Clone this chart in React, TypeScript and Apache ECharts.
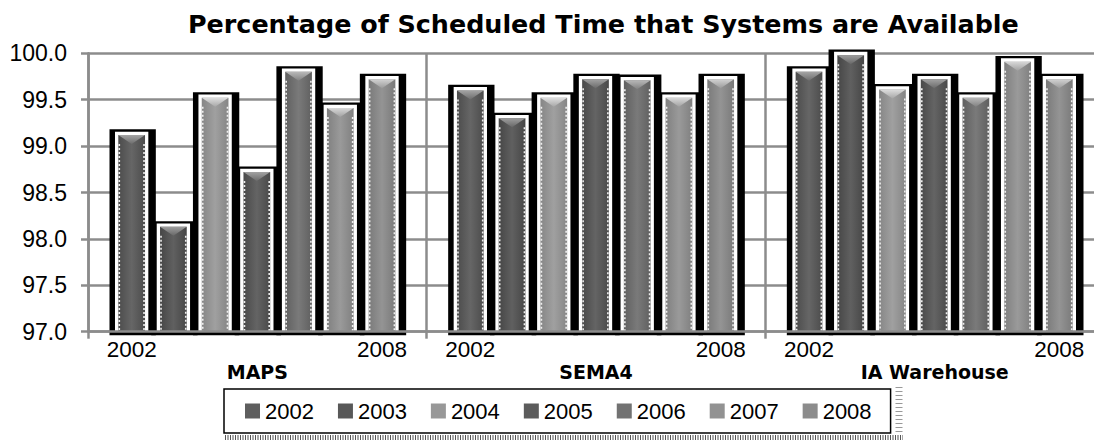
import React, { useEffect, useRef } from "react";
import * as echarts from "echarts";

// ---------------- data ----------------
const TITLE = "Percentage of Scheduled Time that Systems are Available";
const SYSTEMS = ["MAPS", "SEMA4", "IA Warehouse"];
const YEARS = ["2002", "2003", "2004", "2005", "2006", "2007", "2008"];
// one array per year, values for MAPS, SEMA4, IA Warehouse
const V2002 = [99.12, 99.6, 99.8];
const V2003 = [98.13, 99.3, 99.98];
const V2004 = [99.52, 99.52, 99.61];
const V2005 = [98.72, 99.72, 99.72];
const V2006 = [99.8, 99.71, 99.52];
const V2007 = [99.41, 99.52, 99.91];
const V2008 = [99.72, 99.72, 99.72];
const VALUES = [V2002, V2003, V2004, V2005, V2006, V2007, V2008];
const Y_MIN = 97;
const Y_MAX = 100;
const Y_STEP = 0.5;

// ---------------- styles ----------------
const FONT = "Liberation Sans";
const BOLD_FONT = "DejaVu Sans";
const GRID_GRAY = "#8c8c8c";
const COLORS = ["#5e5e5e", "#585858", "#989898", "#5c5c5c", "#727272", "#929292", "#8c8c8c"];

function shade(hex: string, amt: number): string {
  const n = parseInt(hex.slice(1), 16);
  const clamp = (v: number) => Math.max(0, Math.min(255, Math.round(v)));
  const r = clamp(((n >> 16) & 255) + amt);
  const g = clamp(((n >> 8) & 255) + amt);
  const b = clamp((n & 255) + amt);
  return "#" + ((1 << 24) | (r << 16) | (g << 8) | b).toString(16).slice(1);
}

function makeRender(s: number) {
  return (params: any, api: any) => {
    const cat = api.value(0);
    const val = api.value(1);
    const top = api.coord([cat, val]);
    const base = api.coord([cat, Y_MIN]);
    const band = api.size([1, 0])[0];
    const pitch = band * 0.1232;
    const wW = band * 0.0984;
    const cx = top[0] + (s - 3) * pitch - 0.5;
    const yTop = top[1];
    const y0 = base[1];
    const b = 3.3;
    const wL = cx - wW / 2;
    const wTop = yTop - b;
    const fL = wL + b;
    const fW = wW - 2 * b;
    const c = COLORS[s];
    const bodyGrad = new echarts.graphic.LinearGradient(0, 0, 1, 0, [
      { offset: 0, color: shade(c, -18) },
      { offset: 0.5, color: shade(c, 8) },
      { offset: 1, color: shade(c, -18) },
    ]);
    const capGrad = new echarts.graphic.LinearGradient(0, 0, 0, 1, [
      { offset: 0, color: shade(c, 70) },
      { offset: 1, color: shade(c, 15) },
    ]);
    const children: any[] = [
      {
        type: "rect",
        shape: { x: wL - 5.5, y: wTop - 2.3, width: wW + 13, height: y0 + 3.5 - (wTop - 2.3) },
        style: { fill: "#000" },
      },
      {
        type: "rect",
        shape: { x: wL, y: wTop, width: wW, height: y0 - wTop },
        style: { fill: "#fff" },
      },
      {
        type: "rect",
        shape: { x: fL, y: yTop, width: fW, height: y0 - yTop },
        style: { fill: bodyGrad },
      },
      {
        type: "line",
        shape: { x1: fL + 1, y1: yTop + 9, x2: fL + 1, y2: y0 },
        style: { stroke: "#eeeeee", lineWidth: 1.6, lineDash: [2, 2] },
      },
      {
        type: "line",
        shape: { x1: fL + fW - 1, y1: yTop + 9, x2: fL + fW - 1, y2: y0 },
        style: { stroke: "#eeeeee", lineWidth: 1.6, lineDash: [2, 2] },
      },
      {
        type: "polygon",
        shape: { points: [[fL, yTop], [fL + fW, yTop], [cx, yTop + 9]] },
        style: { fill: capGrad },
      },
    ];
    if (s === 0 || s === YEARS.length - 1) {
      children.push({
        type: "text",
        x: cx,
        y: y0 + 17.5,
        style: {
          text: YEARS[s],
          fill: "#000",
          font: `22.5px "${FONT}"`,
          align: "center",
          verticalAlign: "middle",
        },
      });
    }
    return { type: "group", children };
  };
}

export default function App() {
  const ref = useRef<HTMLDivElement>(null);

  useEffect(() => {
    if (!ref.current) return;
    const chart = echarts.init(ref.current, undefined, { renderer: "svg" });

    const series = YEARS.map((y, s) => ({
      type: "custom",
      name: y,
      renderItem: makeRender(s),
      encode: { x: 0, y: 1 },
      itemStyle: { color: COLORS[s] },
      data: VALUES[s].map((v, i) => [i, v]),
      z: 2,
      clip: false,
    }));

    chart.setOption({
      animation: false,
      backgroundColor: "#fff",
      textStyle: { fontFamily: FONT },
      title: {
        text: TITLE,
        left: 188,
        top: 11,
        padding: 0,
        textStyle: {
          fontFamily: BOLD_FONT,
          fontWeight: "bold",
          fontSize: 25.4,
          lineHeight: 26,
          color: "#000",
        },
      },
      legend: {
        data: YEARS,
        left: 224,
        top: 389,
        padding: [11, 19, 11, 21],
        borderColor: "#000",
        borderWidth: 1.5,
        backgroundColor: "#fff",
        itemGap: 24,
        itemWidth: 15,
        itemHeight: 15,
        icon: "rect",
        selectedMode: false,
        z: 5,
        textStyle: { fontFamily: FONT, fontSize: 22, lineHeight: 22, color: "#000" },
      },
      grid: {
        left: 88,
        right: -10,
        top: 53.3,
        bottom: 108.3,
        containLabel: false,
        outerBoundsMode: "none",
      },
      xAxis: {
        type: "category",
        data: SYSTEMS,
        z: 5,
        axisLine: { show: true, lineStyle: { color: GRID_GRAY, width: 2.5 } },
        axisTick: { show: true, length: 7, interval: 0, lineStyle: { color: GRID_GRAY, width: 2.5 } },
        splitLine: { show: true, interval: 0, lineStyle: { color: GRID_GRAY, width: 2.5 } },
        axisLabel: {
          interval: 0,
          margin: 30,
          fontFamily: BOLD_FONT,
          fontWeight: "bold",
          fontSize: 19,
          lineHeight: 20,
          color: "#000",
        },
      },
      yAxis: {
        type: "value",
        min: Y_MIN,
        max: Y_MAX,
        interval: Y_STEP,
        z: 0,
        axisLine: { show: true, lineStyle: { color: GRID_GRAY, width: 2.5 } },
        axisTick: { show: true, length: 7, lineStyle: { color: GRID_GRAY, width: 2.5 } },
        splitLine: { show: true, lineStyle: { color: GRID_GRAY, width: 2.5 } },
        axisLabel: {
          margin: 21,
          fontFamily: FONT,
          fontSize: 23,
          color: "#000",
          formatter: (v: number) => v.toFixed(1),
        },
      },
      graphic: [
        {
          type: "line",
          z: 1,
          shape: { x1: 225, y1: 437.5, x2: 903, y2: 437.5 },
          style: { stroke: "#555", lineWidth: 5, lineDash: [1, 1.5] },
        },
        {
          type: "line",
          z: 1,
          shape: { x1: 899, y1: 387, x2: 899, y2: 435 },
          style: { stroke: "#999", lineWidth: 7, lineDash: [1, 3] },
        },
      ],
      series,
    });

    return () => chart.dispose();
  }, []);

  return (
    <div
      ref={ref}
      style={{ position: "absolute", left: 0, top: 0, width: 1094, height: 440 }}
    />
  );
}
